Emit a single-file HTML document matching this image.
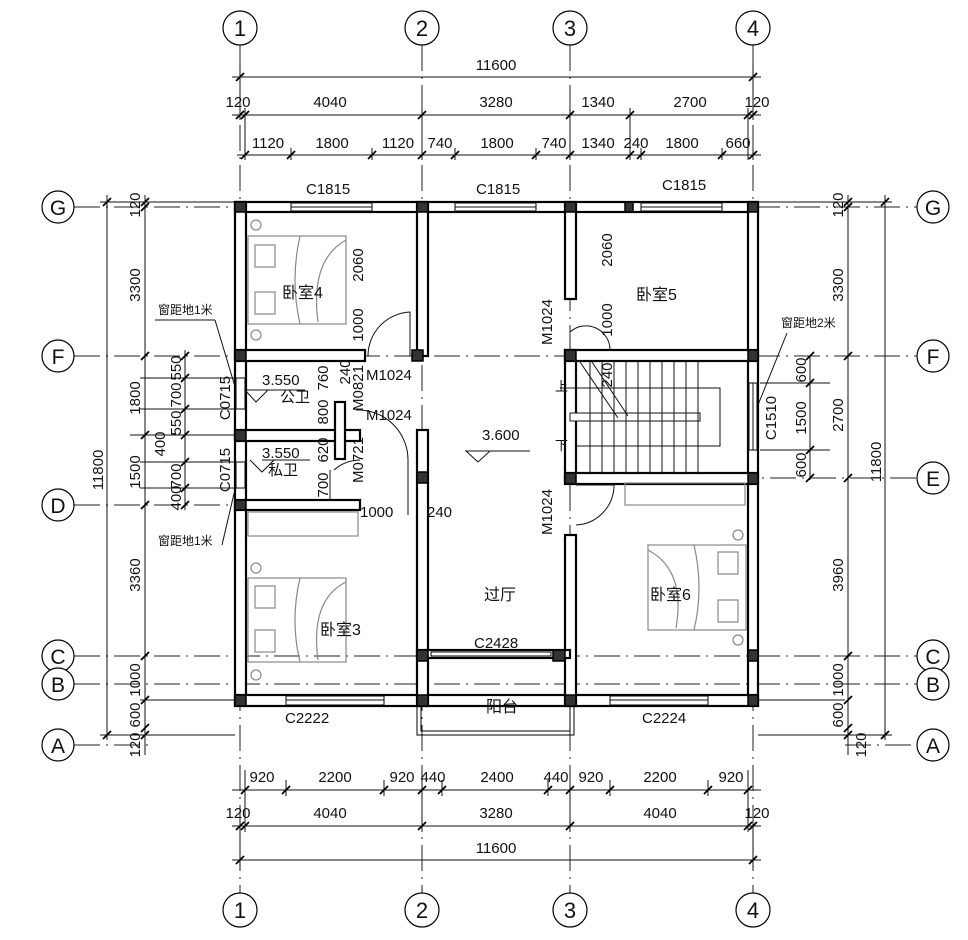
<!DOCTYPE html>
<html><head><meta charset="utf-8"><style>
html,body{margin:0;padding:0;background:#fff}
svg{display:block}
text{font-family:"Liberation Sans Narrow","Liberation Sans","Noto Sans CJK SC",sans-serif;font-size:15px;fill:#111}
.ax{stroke:#222;stroke-width:1;stroke-dasharray:26 6 2 6;fill:none}
.d{stroke:#111;stroke-width:1;fill:none}
.w{fill:#fff;stroke:#000;stroke-width:2.2}
.c{fill:#333;stroke:#000;stroke-width:1.5}
.g{fill:none;stroke:#888;stroke-width:1.2}
.win{fill:#fff;stroke:#000;stroke-width:1}
</style></head><body>
<svg width="968" height="940" viewBox="0 0 968 940" xmlns="http://www.w3.org/2000/svg">
<defs>
<g id="tk"><line x1="-4" y1="4" x2="4" y2="-4" stroke="#000" stroke-width="1.8"/></g>
</defs>
<!-- axis lines -->
<g class="ax">
<line x1="240" y1="45" x2="240" y2="893"/><line x1="422" y1="45" x2="422" y2="893"/>
<line x1="570" y1="45" x2="570" y2="893"/><line x1="753" y1="45" x2="753" y2="893"/>
<line x1="74" y1="207" x2="917" y2="207"/><line x1="74" y1="356" x2="917" y2="356"/>
<line x1="570" y1="478" x2="917" y2="478"/><line x1="74" y1="505" x2="240" y2="505"/>
<line x1="74" y1="656" x2="917" y2="656"/><line x1="74" y1="684" x2="917" y2="684"/>
<line x1="74" y1="745" x2="150" y2="745"/><line x1="845" y1="745" x2="917" y2="745"/>
</g>
<!-- bubbles -->
<g fill="#fff" stroke="#000" stroke-width="1.2">
<circle cx="240" cy="28" r="17"/><circle cx="422" cy="28" r="17"/><circle cx="570" cy="28" r="17"/><circle cx="753" cy="28" r="17"/>
<circle cx="240" cy="910" r="17"/><circle cx="422" cy="910" r="17"/><circle cx="570" cy="910" r="17"/><circle cx="753" cy="910" r="17"/>
<circle cx="58" cy="207" r="16"/><circle cx="58" cy="356" r="16"/><circle cx="58" cy="505" r="16"/><circle cx="58" cy="656" r="16"/><circle cx="58" cy="684" r="16"/><circle cx="58" cy="745" r="16"/>
<circle cx="933" cy="207" r="16"/><circle cx="933" cy="356" r="16"/><circle cx="933" cy="478" r="16"/><circle cx="933" cy="656" r="16"/><circle cx="933" cy="684" r="16"/><circle cx="933" cy="745" r="16"/>
</g>
<g style="font-size:22px" text-anchor="middle">
<text x="240" y="36" style="font-size:22px">1</text><text x="422" y="36" style="font-size:22px">2</text><text x="570" y="36" style="font-size:22px">3</text><text x="753" y="36" style="font-size:22px">4</text>
<text x="240" y="918" style="font-size:22px">1</text><text x="422" y="918" style="font-size:22px">2</text><text x="570" y="918" style="font-size:22px">3</text><text x="753" y="918" style="font-size:22px">4</text>
<text x="58" y="215" style="font-size:21px">G</text><text x="58" y="364" style="font-size:21px">F</text><text x="58" y="513" style="font-size:21px">D</text><text x="58" y="664" style="font-size:21px">C</text><text x="58" y="692" style="font-size:21px">B</text><text x="58" y="753" style="font-size:21px">A</text>
<text x="933" y="215" style="font-size:21px">G</text><text x="933" y="364" style="font-size:21px">F</text><text x="933" y="486" style="font-size:21px">E</text><text x="933" y="664" style="font-size:21px">C</text><text x="933" y="692" style="font-size:21px">B</text><text x="933" y="753" style="font-size:21px">A</text>
</g>
<!-- top dims -->
<g class="d">
<line x1="232" y1="77" x2="761" y2="77"/><line x1="232" y1="115" x2="761" y2="115"/><line x1="237" y1="155" x2="761" y2="155"/>
<line x1="240" y1="65" x2="240" y2="120"/><line x1="753" y1="65" x2="753" y2="120"/>
<line x1="245" y1="108" x2="245" y2="160"/><line x1="422" y1="108" x2="422" y2="160"/><line x1="570" y1="108" x2="570" y2="160"/><line x1="630" y1="108" x2="630" y2="160"/><line x1="748" y1="108" x2="748" y2="160"/>
<line x1="291" y1="148" x2="291" y2="160"/><line x1="372" y1="148" x2="372" y2="160"/><line x1="455" y1="148" x2="455" y2="160"/><line x1="536" y1="148" x2="536" y2="160"/><line x1="641" y1="148" x2="641" y2="160"/><line x1="722" y1="148" x2="722" y2="160"/><line x1="753" y1="148" x2="753" y2="160"/>
<line x1="232" y1="790" x2="761" y2="790"/><line x1="232" y1="826" x2="761" y2="826"/><line x1="232" y1="860" x2="761" y2="860"/>
<line x1="240" y1="820" x2="240" y2="870"/><line x1="753" y1="820" x2="753" y2="870"/>
<line x1="245" y1="770" x2="245" y2="832"/><line x1="422" y1="770" x2="422" y2="832"/><line x1="570" y1="770" x2="570" y2="832"/><line x1="748" y1="770" x2="748" y2="832"/>
<line x1="286" y1="780" x2="286" y2="796"/><line x1="384" y1="780" x2="384" y2="796"/><line x1="442" y1="780" x2="442" y2="796"/><line x1="548" y1="780" x2="548" y2="796"/><line x1="610" y1="780" x2="610" y2="796"/><line x1="708" y1="780" x2="708" y2="796"/>
</g>
<g>
<use href="#tk" x="240" y="77"/><use href="#tk" x="753" y="77"/>
<use href="#tk" x="240" y="115"/><use href="#tk" x="245" y="115"/><use href="#tk" x="422" y="115"/><use href="#tk" x="570" y="115"/><use href="#tk" x="630" y="115"/><use href="#tk" x="748" y="115"/><use href="#tk" x="753" y="115"/>
<use href="#tk" x="245" y="155"/><use href="#tk" x="291" y="155"/><use href="#tk" x="372" y="155"/><use href="#tk" x="422" y="155"/><use href="#tk" x="455" y="155"/><use href="#tk" x="536" y="155"/><use href="#tk" x="570" y="155"/><use href="#tk" x="630" y="155"/><use href="#tk" x="641" y="155"/><use href="#tk" x="722" y="155"/><use href="#tk" x="753" y="155"/>
<use href="#tk" x="245" y="790"/><use href="#tk" x="286" y="790"/><use href="#tk" x="384" y="790"/><use href="#tk" x="422" y="790"/><use href="#tk" x="442" y="790"/><use href="#tk" x="548" y="790"/><use href="#tk" x="570" y="790"/><use href="#tk" x="610" y="790"/><use href="#tk" x="708" y="790"/><use href="#tk" x="748" y="790"/>
<use href="#tk" x="240" y="826"/><use href="#tk" x="245" y="826"/><use href="#tk" x="422" y="826"/><use href="#tk" x="570" y="826"/><use href="#tk" x="748" y="826"/><use href="#tk" x="753" y="826"/>
<use href="#tk" x="240" y="860"/><use href="#tk" x="753" y="860"/>
</g>
<g text-anchor="middle">
<text x="496" y="70">11600</text>
<text x="238" y="107">120</text><text x="330" y="107">4040</text><text x="496" y="107">3280</text><text x="598" y="107">1340</text><text x="690" y="107">2700</text><text x="757" y="107">120</text>
<text x="268" y="148">1120</text><text x="332" y="148">1800</text><text x="398" y="148">1120</text><text x="440" y="148">740</text><text x="497" y="148">1800</text><text x="554" y="148">740</text><text x="598" y="148">1340</text><text x="636" y="148">240</text><text x="682" y="148">1800</text><text x="738" y="148">660</text>
<text x="262" y="782">920</text><text x="335" y="782">2200</text><text x="402" y="782">920</text><text x="433" y="782">440</text><text x="497" y="782">2400</text><text x="556" y="782">440</text><text x="591" y="782">920</text><text x="660" y="782">2200</text><text x="731" y="782">920</text>
<text x="238" y="818">120</text><text x="330" y="818">4040</text><text x="496" y="818">3280</text><text x="660" y="818">4040</text><text x="757" y="818">120</text>
<text x="496" y="853">11600</text>
</g>
<!-- left/right dims -->
<g class="d">
<line x1="107" y1="195" x2="107" y2="740"/><line x1="145" y1="195" x2="145" y2="755"/><line x1="185" y1="350" x2="185" y2="510"/>
<line x1="100" y1="202" x2="235" y2="202"/><line x1="100" y1="735" x2="235" y2="735"/>
<line x1="140" y1="378" x2="240" y2="378"/><line x1="140" y1="409" x2="240" y2="409"/><line x1="130" y1="435" x2="240" y2="435"/><line x1="140" y1="462" x2="240" y2="462"/><line x1="140" y1="488" x2="240" y2="488"/>
<line x1="140" y1="700" x2="240" y2="700"/>
<line x1="885" y1="195" x2="885" y2="740"/><line x1="848" y1="195" x2="848" y2="755"/><line x1="810" y1="355" x2="810" y2="480"/>
<line x1="758" y1="202" x2="892" y2="202"/><line x1="758" y1="735" x2="892" y2="735"/>
<line x1="760" y1="383" x2="830" y2="383"/><line x1="760" y1="450" x2="830" y2="450"/><line x1="845" y1="700" x2="758" y2="700"/>
</g>
<g>
<use href="#tk" x="107" y="202"/><use href="#tk" x="107" y="735"/>
<use href="#tk" x="145" y="202"/><use href="#tk" x="145" y="207"/><use href="#tk" x="145" y="356"/><use href="#tk" x="145" y="435"/><use href="#tk" x="145" y="505"/><use href="#tk" x="145" y="656"/><use href="#tk" x="145" y="700"/><use href="#tk" x="145" y="728"/><use href="#tk" x="145" y="735"/>
<use href="#tk" x="185" y="356"/><use href="#tk" x="185" y="378"/><use href="#tk" x="185" y="409"/><use href="#tk" x="185" y="435"/><use href="#tk" x="185" y="462"/><use href="#tk" x="185" y="488"/><use href="#tk" x="185" y="505"/>
<use href="#tk" x="885" y="202"/><use href="#tk" x="885" y="735"/>
<use href="#tk" x="848" y="202"/><use href="#tk" x="848" y="207"/><use href="#tk" x="848" y="356"/><use href="#tk" x="848" y="478"/><use href="#tk" x="848" y="656"/><use href="#tk" x="848" y="700"/><use href="#tk" x="848" y="728"/><use href="#tk" x="848" y="735"/>
<use href="#tk" x="810" y="356"/><use href="#tk" x="810" y="383"/><use href="#tk" x="810" y="450"/><use href="#tk" x="810" y="478"/>
</g>
<g text-anchor="middle">
<text transform="translate(140,205) rotate(-90)">120</text>
<text transform="translate(140,285) rotate(-90)">3300</text>
<text transform="translate(140,398) rotate(-90)">1800</text>
<text transform="translate(140,472) rotate(-90)">1500</text>
<text transform="translate(103,470) rotate(-90)">11800</text>
<text transform="translate(140,575) rotate(-90)">3360</text>
<text transform="translate(140,680) rotate(-90)">1000</text>
<text transform="translate(140,715) rotate(-90)">600</text>
<text transform="translate(140,745) rotate(-90)">120</text>
<text transform="translate(181,368) rotate(-90)">550</text>
<text transform="translate(181,395) rotate(-90)">700</text>
<text transform="translate(181,423) rotate(-90)">550</text>
<text transform="translate(165,444) rotate(-90)">400</text>
<text transform="translate(181,476) rotate(-90)">700</text>
<text transform="translate(181,498) rotate(-90)">400</text>
<text transform="translate(230,398) rotate(-90)">C0715</text>
<text transform="translate(230,470) rotate(-90)">C0715</text>
<text transform="translate(843,205) rotate(-90)">120</text>
<text transform="translate(843,285) rotate(-90)">3300</text>
<text transform="translate(843,415) rotate(-90)">2700</text>
<text transform="translate(881,462) rotate(-90)">11800</text>
<text transform="translate(843,575) rotate(-90)">3960</text>
<text transform="translate(843,680) rotate(-90)">1000</text>
<text transform="translate(843,715) rotate(-90)">600</text>
<text transform="translate(866,745) rotate(-90)">120</text>
<text transform="translate(806,370) rotate(-90)">600</text>
<text transform="translate(806,418) rotate(-90)">1500</text>
<text transform="translate(806,465) rotate(-90)">600</text>
<text transform="translate(776,418) rotate(-90)">C1510</text>
</g>
<!-- notes -->
<g style="font-size:12px">
<text x="158" y="314" style="font-size:12px">窗距地1米</text>
<text x="158" y="545" style="font-size:12px">窗距地1米</text>
<text x="781" y="327" style="font-size:12px">窗距地2米</text>
</g>
<g class="d"><line x1="155" y1="320" x2="215" y2="320"/><line x1="215" y1="320" x2="236" y2="390"/><line x1="222" y1="545" x2="236" y2="485"/><line x1="787" y1="333" x2="758" y2="405"/></g>
<!-- walls -->
<g class="w">
<rect x="235" y="202" width="523" height="10"/>
<rect x="235" y="202" width="11" height="503"/>
<rect x="748" y="202" width="10" height="503"/>
<rect x="235" y="695" width="523" height="11"/>
<rect x="417" y="202" width="11" height="154"/>
<rect x="417" y="430" width="11" height="276"/>
<rect x="565" y="202" width="11" height="97"/>
<rect x="565" y="350" width="11" height="130"/>
<rect x="565" y="535" width="11" height="171"/>
<rect x="235" y="350" width="130" height="11"/>
<rect x="565" y="350" width="193" height="11"/>
<rect x="565" y="473" width="193" height="11"/>
<rect x="235" y="430" width="125" height="11"/>
<rect x="335" y="402" width="10" height="57"/>
<rect x="235" y="500" width="125" height="10"/>
<rect x="417" y="650" width="153" height="8"/>
</g>
<!-- windows -->
<g class="win">
<rect x="291" y="203" width="81" height="8"/><rect x="455" y="203" width="81" height="8"/><rect x="641" y="203" width="81" height="8"/>
<rect x="286" y="696" width="98" height="9"/><rect x="610" y="696" width="98" height="9"/>
<rect x="236" y="378" width="9" height="31"/><rect x="236" y="462" width="9" height="26"/>
<rect x="749" y="383" width="8" height="67"/>
<rect x="431" y="652" width="120" height="4"/>
</g>
<g class="d"><line x1="291" y1="207" x2="372" y2="207"/><line x1="455" y1="207" x2="536" y2="207"/><line x1="641" y1="207" x2="722" y2="207"/><line x1="286" y1="700" x2="384" y2="700"/><line x1="610" y1="700" x2="708" y2="700"/><line x1="753" y1="383" x2="753" y2="450"/></g>
<!-- balcony -->
<g fill="none" stroke="#000" stroke-width="1"><rect x="417" y="706" width="157" height="29"/><rect x="421" y="706" width="149" height="25"/></g>
<!-- white clearing for openings -->
<g fill="#fff"><rect x="418" y="300" width="9" height="0"/></g>
<!-- columns -->
<g class="c">
<rect x="235" y="202" width="11" height="10"/><rect x="417" y="202" width="11" height="10"/><rect x="565" y="202" width="11" height="10"/><rect x="748" y="202" width="10" height="10"/><rect x="625" y="202" width="8" height="10"/>
<rect x="235" y="350" width="11" height="11"/><rect x="412" y="350" width="11" height="11"/><rect x="565" y="350" width="11" height="11"/><rect x="748" y="350" width="10" height="11"/>
<rect x="235" y="430" width="11" height="11"/><rect x="417" y="472" width="11" height="11"/><rect x="565" y="473" width="11" height="11"/><rect x="748" y="473" width="10" height="11"/>
<rect x="235" y="500" width="11" height="10"/>
<rect x="417" y="650" width="11" height="11"/><rect x="553" y="650" width="12" height="11"/><rect x="748" y="650" width="10" height="11"/>
<rect x="235" y="695" width="11" height="11"/><rect x="417" y="695" width="11" height="11"/><rect x="565" y="695" width="11" height="11"/><rect x="748" y="695" width="10" height="11"/>
</g>
<!-- doors -->
<g class="d">
<path d="M368 356 A44 44 0 0 1 410 312 L410 356"/>
<path d="M356 410 A50 50 0 0 1 408 460"/>
<path d="M408 460 L408 515"/>
<path d="M334 470 A40 40 0 0 1 360 460"/>
<path d="M570 332 A24 24 0 0 1 610 350"/>
<path d="M576 485 L614 485 A40 40 0 0 1 576 525"/>
<path d="M330 470 L330 500"/>
</g>
<!-- stairs -->
<g class="d">
<rect x="576" y="361" width="172" height="112" fill="none"/>
<rect x="576" y="388" width="144" height="58"/>
<rect x="570" y="413" width="130" height="8" fill="#fff"/>
<line x1="590" y1="361" x2="590" y2="473"/><line x1="602" y1="361" x2="602" y2="473"/><line x1="614" y1="361" x2="614" y2="473"/><line x1="626" y1="361" x2="626" y2="473"/><line x1="638" y1="361" x2="638" y2="473"/><line x1="650" y1="361" x2="650" y2="473"/><line x1="662" y1="361" x2="662" y2="473"/><line x1="674" y1="361" x2="674" y2="473"/><line x1="686" y1="361" x2="686" y2="473"/><line x1="698" y1="361" x2="698" y2="473"/>
<line x1="580" y1="362" x2="618" y2="418"/><line x1="592" y1="362" x2="628" y2="416"/>
<line x1="560" y1="388" x2="660" y2="388"/>
</g>
<!-- furniture -->
<g class="g">
<rect x="248" y="236" width="98" height="88"/><path d="M300 236 Q290 280 300 324"/><path d="M346 240 Q310 260 318 322"/>
<rect x="255" y="245" width="20" height="22"/><rect x="255" y="292" width="20" height="22"/>
<rect x="248" y="578" width="98" height="84"/><path d="M300 578 Q290 620 300 662"/><path d="M346 582 Q310 600 318 660"/>
<rect x="255" y="586" width="20" height="22"/><rect x="255" y="630" width="20" height="22"/>
<rect x="648" y="545" width="98" height="85"/><path d="M694 545 Q704 588 694 630"/><path d="M648 550 Q686 570 676 628"/>
<rect x="718" y="552" width="20" height="22"/><rect x="718" y="600" width="20" height="22"/>
<rect x="248" y="512" width="110" height="24"/><rect x="625" y="483" width="120" height="22"/>
<circle cx="256" cy="225" r="5"/><circle cx="256" cy="335" r="5"/><circle cx="256" cy="568" r="5"/><circle cx="256" cy="675" r="5"/><circle cx="738" cy="535" r="5"/><circle cx="738" cy="640" r="5"/>
</g>
<!-- level marks -->
<g class="d"><path d="M245 390 L256 402 L268 390 Z M256 390 L305 390"/><path d="M250 460 L262 472 L274 460 M262 460 L310 460"/><path d="M466 451 L478 462 L490 451 Z M478 451 L530 451"/></g>
<!-- labels -->
<text x="282" y="298" style="font-size:16px">卧室4</text>
<text x="636" y="300" style="font-size:16px">卧室5</text>
<text x="320" y="635" style="font-size:16px">卧室3</text>
<text x="650" y="600" style="font-size:16px">卧室6</text>
<text x="484" y="600" style="font-size:16px">过厅</text>
<text x="486" y="712" style="font-size:16px">阳台</text>
<text x="262" y="385">3.550</text><text x="280" y="402">公卫</text>
<text x="262" y="458">3.550</text><text x="268" y="475">私卫</text>
<text x="482" y="440">3.600</text>
<text x="306" y="194">C1815</text><text x="476" y="194">C1815</text><text x="662" y="190">C1815</text>
<text x="285" y="723">C2222</text><text x="642" y="723">C2224</text>
<text x="474" y="648">C2428</text>
<text x="366" y="380">M1024</text><text x="366" y="420">M1024</text>
<text x="360" y="517">1000</text><text x="427" y="517">240</text>
<text x="555" y="391" style="font-size:13px">上</text><text x="555" y="450" style="font-size:13px">下</text>
<g text-anchor="middle">
<text transform="translate(363,265) rotate(-90)">2060</text>
<text transform="translate(363,325) rotate(-90)">1000</text>
<text transform="translate(612,250) rotate(-90)">2060</text>
<text transform="translate(612,320) rotate(-90)">1000</text>
<text transform="translate(552,322) rotate(-90)">M1024</text>
<text transform="translate(552,512) rotate(-90)">M1024</text>
<text transform="translate(363,388) rotate(-90)">M0821</text>
<text transform="translate(363,460) rotate(-90)">M0721</text>
<text transform="translate(328,378) rotate(-90)">760</text>
<text transform="translate(328,412) rotate(-90)">800</text>
<text transform="translate(328,450) rotate(-90)">620</text>
<text transform="translate(328,485) rotate(-90)">700</text>
<text transform="translate(350,372) rotate(-90)">240</text>
<text transform="translate(612,375) rotate(-90)">240</text>
</g>
</svg>
</body></html>
